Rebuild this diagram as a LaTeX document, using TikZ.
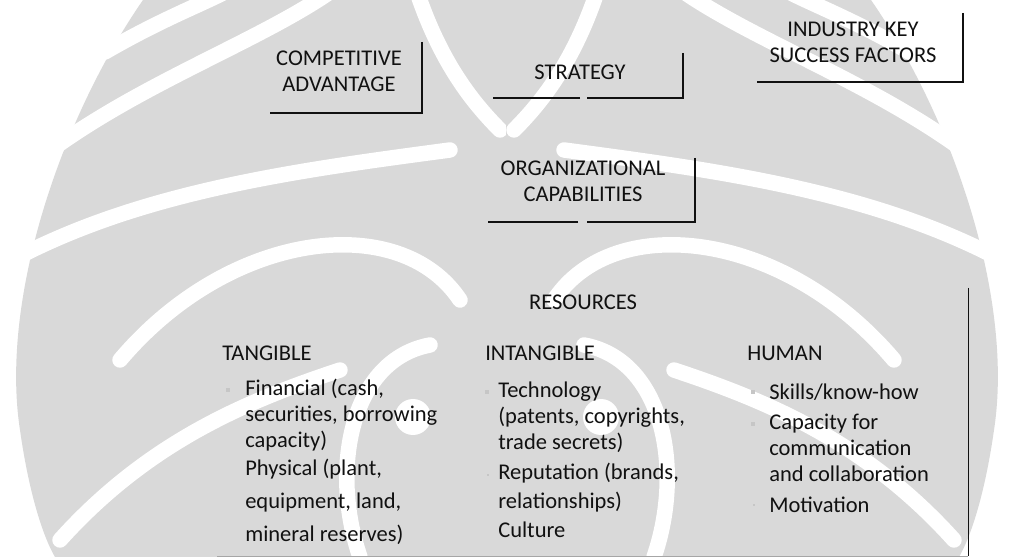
\documentclass[tikz,border=0pt]{standalone}
\usepackage{fontspec}
\setmainfont{Carlito}
\usetikzlibrary{calc}
\definecolor{wm}{HTML}{D9D9D9}
\definecolor{ink}{HTML}{111111}
\tikzset{
  lbl/.style={font=\fontsize{16pt}{18.5pt}\selectfont,align=center,text=ink,inner sep=0pt},
  head/.style={font=\fontsize{16pt}{18.5pt}\selectfont,anchor=west,text=ink,inner sep=0pt},
  item/.style={font=\fontsize{16pt}{18.5pt}\selectfont,align=left,anchor=west,text=ink,inner sep=0pt},
  dot/.style={rectangle,fill=gray!45,minimum size=3pt,inner sep=0pt},
  rim/.style={draw=ink,line width=1.9pt},
  thin/.style={draw=ink,line width=0.7pt},
  band/.style={draw=white,line width=11pt,line cap=round},
}
\begin{document}
\begin{tikzpicture}[x=0.025cm,y=-0.025cm]
  \useasboundingbox[fill=white] (0,0) rectangle (1015,557);

  %% -- watermark --------------------------------------------------------
  \foreach \side in {1,-1}{
    \begin{scope}[shift={(507,0)},xscale=\side,shift={(-507,0)}]
      \fill[wm] (143,0) .. controls (60,120) and (0,300) .. (20,430)
        .. controls (30,500) and (45,540) .. (55,557) -- (508,557) -- (508,0) -- cycle;
      \draw[band] (105,52) .. controls (160,20) and (200,5) .. (225,-8);
      \draw[band] (58,145) .. controls (150,80) and (260,40) .. (330,-8);
      \draw[band] (22,255) .. controls (150,190) and (300,170) .. (450,150);
      \draw[band] (120,360) .. controls (230,230) and (400,210) .. (460,300);
      \draw[band] (60,540) .. controls (150,440) and (250,400) .. (340,370);
      \draw[band] (417,-8) .. controls (440,60) and (470,100) .. (500,130);
      \fill[white] (413,417) circle (18);
      \draw[band] (360,557) .. controls (330,470) and (350,360) .. (430,345);
    \end{scope}
  }

  %% -- upper boxes ------------------------------------------------------
  \node[lbl] (ca) at (339,71) {COMPETITIVE\\ADVANTAGE};
  \node[lbl] (st) at (580,72) {STRATEGY};
  \node[lbl] (ks) at (853,42) {INDUSTRY KEY\\SUCCESS FACTORS};
  \node[lbl] (oc) at (583,181) {ORGANIZATIONAL\\CAPABILITIES};

  \draw[rim] ($(ca)+(83,-29)$) |- ($(ca)+(-69,42)$);
  \draw[rim] ($(st)+(103,-19)$) |- ($(st)+(7,26)$);
  \draw[rim] ($(st)+(0,26)$) -- ($(st)+(-87,26)$);
  \draw[rim] ($(ks)+(110,-29)$) |- ($(ks)+(-96,40)$);
  \draw[rim] ($(oc)+(112,-23)$) |- ($(oc)+(4,41)$);
  \draw[rim] ($(oc)+(-5,41)$) -- ($(oc)+(-95,41)$);

  %% -- resources --------------------------------------------------------
  \node[lbl] (res) at (583,302) {RESOURCES};
  \draw[thin] ($(res)+(385,-14)$) -- ($(res)+(385,254)$);
  \draw[thin,draw=gray!70] ($(res)+(385,254)$) -- ($(res)+(-366,254)$);

  \node[head] (tan) at (222,353) {TANGIBLE};
  \node[head] (int) at (485,353) {INTANGIBLE};
  \node[head] (hum) at (747,353) {HUMAN};

  \node[item] (fin) at (245,415) {Financial (cash,\\securities, borrowing\\capacity)};
  \node[item] (phy) at (245,502) {Physical (plant,\\[5pt]equipment, land,\\[5pt]mineral reserves)};
  \node[item] (tec) at (498,417) {Technology\\(patents, copyrights,\\trade secrets)};
  \node[item] (rep) at (498,488) {Reputation (brands,\\[2pt]relationships)};
  \node[item] (cul) at (498,530) {Culture};
  \node[item] (ski) at (769,392) {Skills/know-how};
  \node[item] (cap) at (769,448) {Capacity for\\communication\\and collaboration};
  \node[item] (mot) at (769,505) {Motivation};

  \node[dot] at (228,390) {};
  \node[dot] at (487,392) {};
  \node[dot,minimum size=2pt] at (488,475) {};
  \node[dot] at (753,392) {};
  \node[dot] at (753,424) {};
  \node[dot,minimum size=2pt] at (754,505) {};
\end{tikzpicture}
\end{document}
